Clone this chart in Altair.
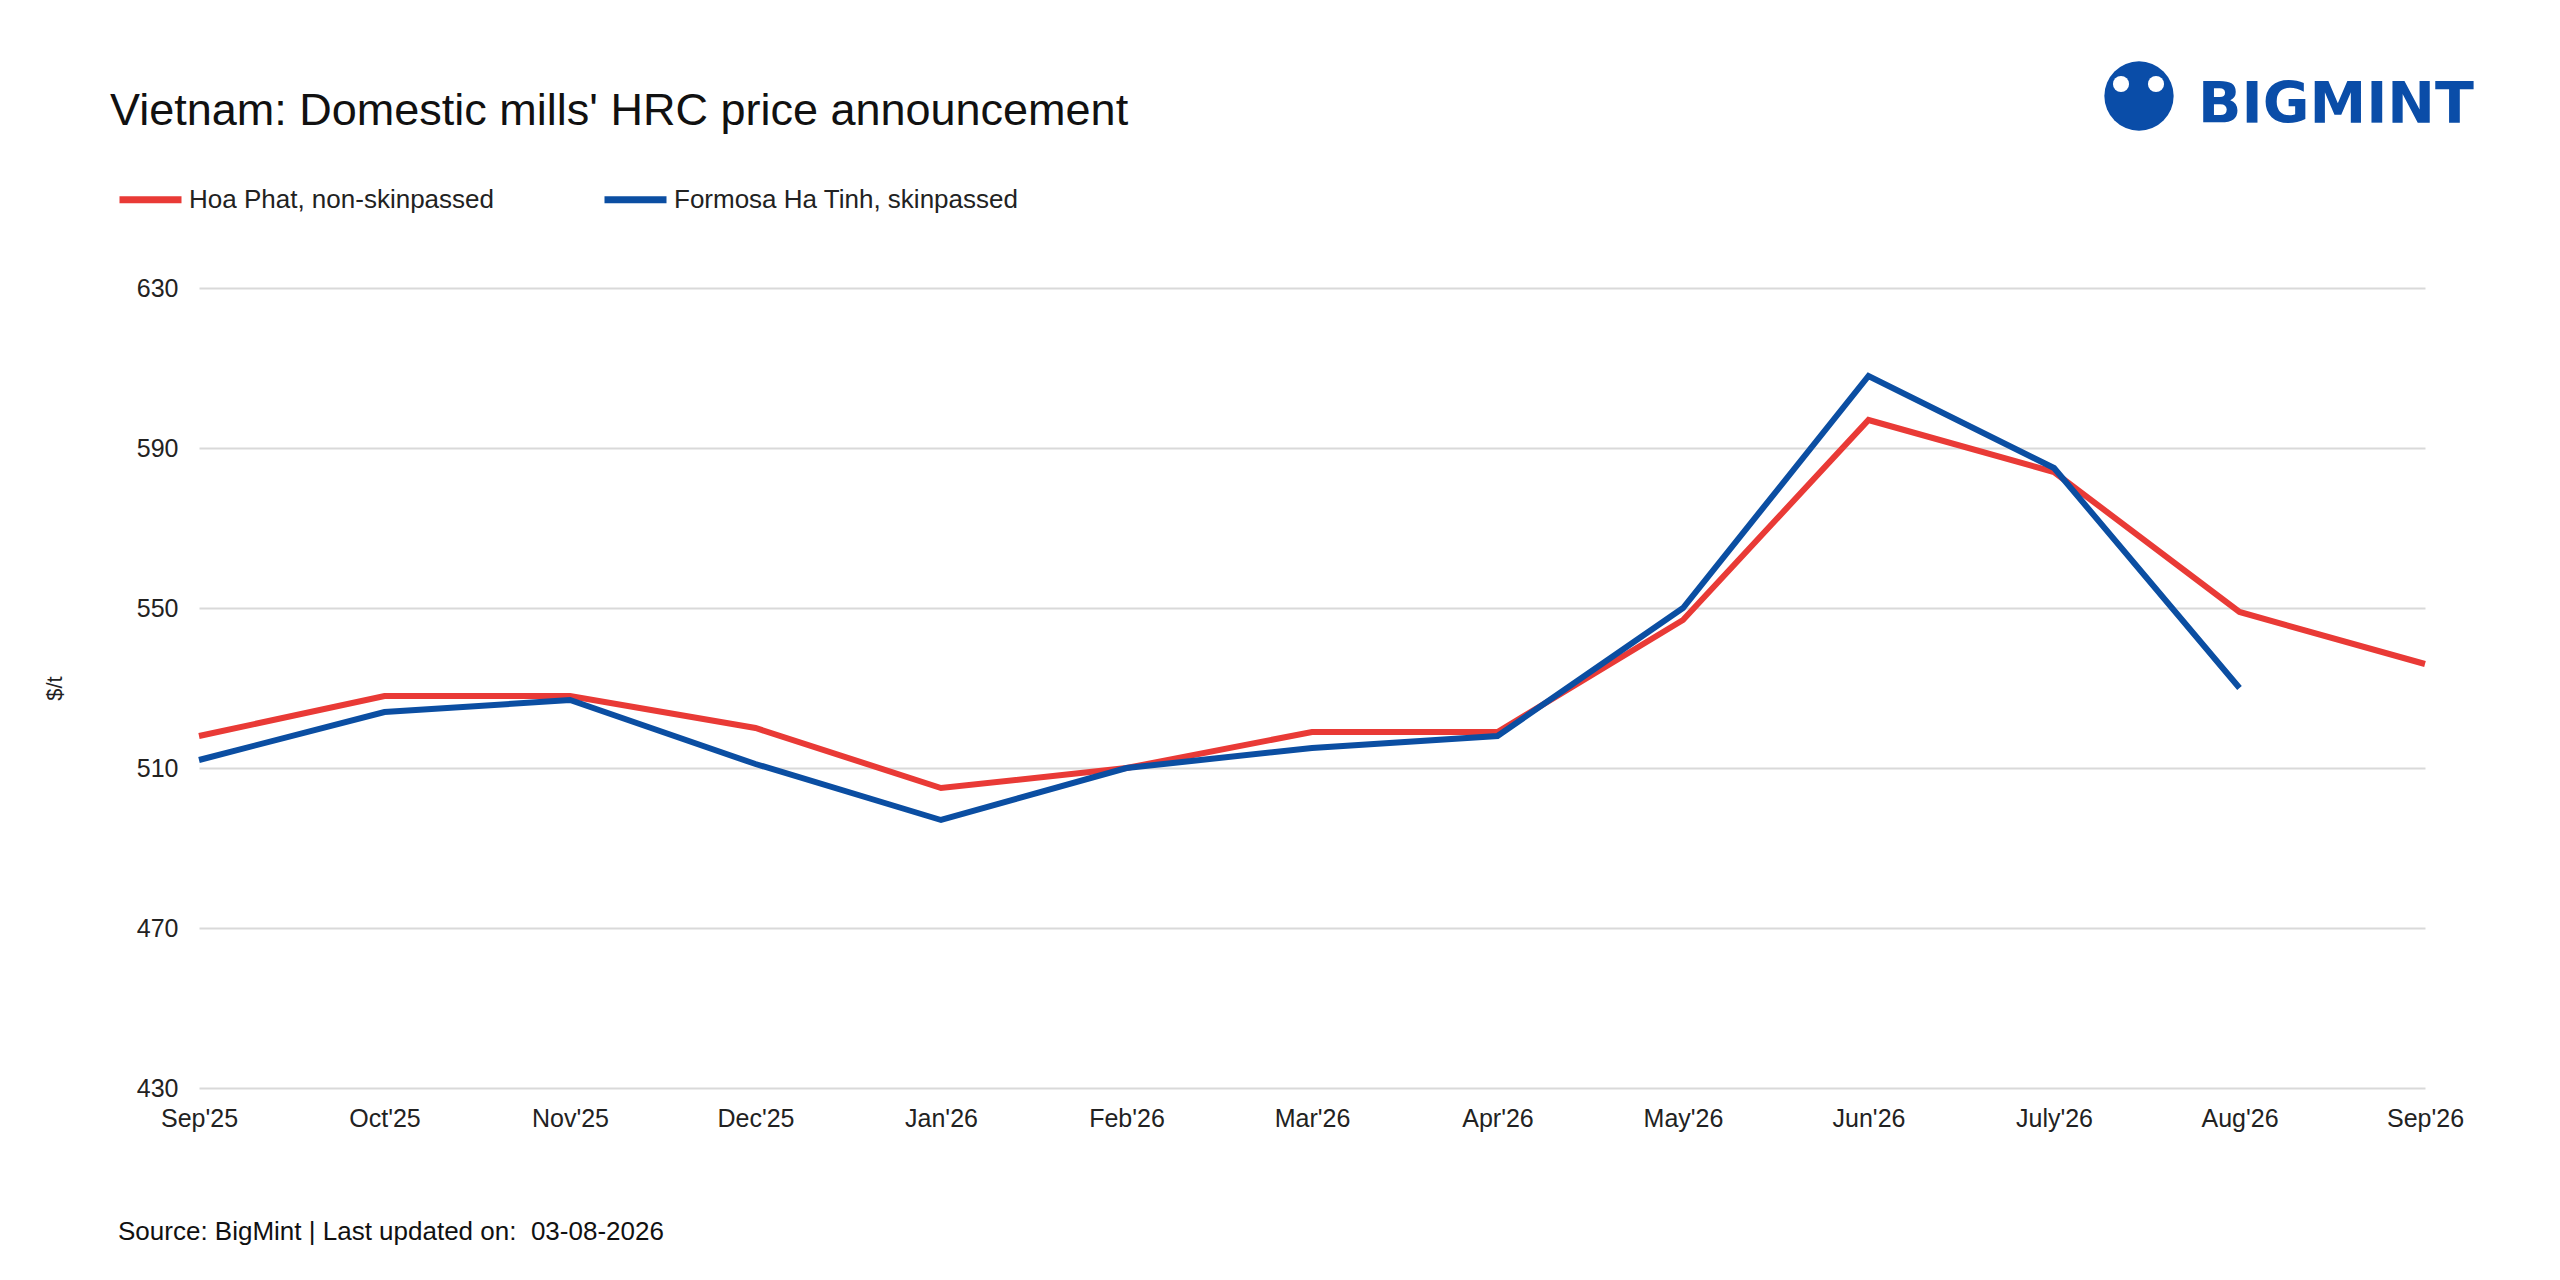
import altair as alt
import pandas as pd

# data
months = ["Sep'25", "Oct'25", "Nov'25", "Dec'25", "Jan'26", "Feb'26", "Mar'26",
          "Apr'26", "May'26", "Jun'26", "July'26", "Aug'26", "Sep'26"]
hoa_phat = [518, 528, 528, 520, 505, 510, 519, 519, 547, 597, 584, 549, 536]
formosa = [512, 524, 527, 511, 497, 510, 515, 518, 550, 608, 585, 530]
series_names = ["Hoa Phat, non-skinpassed", "Formosa Ha Tinh, skinpassed"]
series_colors = ["#E93A36", "#0B4EA2"]
y_ticks = [430, 470, 510, 550, 590, 630]

title_text = "Vietnam: Domestic mills' HRC price announcement"
source_text = "Source: BigMint | Last updated on:\u00a0 03-08-2026"

FONT = "Liberation Sans"
LOGO_BLUE = "#0A4DA8"

rows = []
for name, vals in zip(series_names, [hoa_phat, formosa]):
    for i, v in enumerate(vals):
        rows.append({"month": months[i], "idx": i, "price": v, "series": name})
df = pd.DataFrame(rows)

# lines
lines = alt.Chart(df).mark_line(strokeWidth=6).encode(
    x=alt.X("month:N", sort=months, scale=alt.Scale(padding=0),
            axis=alt.Axis(title=None, labelAngle=0, labelFontSize=25, labelPadding=18,
                          ticks=False, domain=False, grid=False, labelColor="#222222")),
    y=alt.Y("price:Q", scale=alt.Scale(domain=[430, 630], nice=False, zero=False),
            axis=alt.Axis(values=y_ticks, title="$/t", titleFontSize=22,
                          titleFontWeight="normal", titlePadding=70, titleColor="#222222",
                          labelFontSize=25, labelPadding=21, labelColor="#222222",
                          ticks=False, domain=False, gridColor="#d9d9d9", gridWidth=2)),
    color=alt.Color("series:N", scale=alt.Scale(domain=series_names, range=series_colors),
                    legend=alt.Legend(title=None, orient="none", legendX=-83, legendY=-123,
                                      direction="horizontal", symbolType="stroke",
                                      symbolStrokeWidth=7, symbolSize=3844,
                                      labelFontSize=26, labelOffset=4, columnPadding=96,
                                      labelLimit=600, labelColor="#222222")),
    order="idx:Q"
)

# title and source as text
title = alt.Chart(pd.DataFrame({"t": [title_text]})).mark_text(
    align="left", baseline="middle", fontSize=45, font=FONT, color="#111111"
).encode(text="t:N", x=alt.value(-89), y=alt.value(-177))

source = alt.Chart(pd.DataFrame({"t": [source_text]})).mark_text(
    align="left", baseline="middle", fontSize=26, font=FONT, color="#111111"
).encode(text="t:N", x=alt.value(-81), y=alt.value(944))

# logo
logo_circle = alt.Chart(pd.DataFrame({"a": [0]})).mark_point(
    shape="circle", filled=True, size=4800, color=LOGO_BLUE, opacity=1
).encode(x=alt.value(1940), y=alt.value(-192))

head_left = alt.Chart(pd.DataFrame({"a": [0]})).mark_point(
    shape="circle", filled=True, size=260, color="white", opacity=1
).encode(x=alt.value(1922), y=alt.value(-204))

head_right = alt.Chart(pd.DataFrame({"a": [0]})).mark_point(
    shape="circle", filled=True, size=260, color="white", opacity=1
).encode(x=alt.value(1957), y=alt.value(-204))

logo_text = alt.Chart(pd.DataFrame({"t": ["BIGMINT"]})).mark_text(
    align="left", baseline="middle", fontSize=57, font="DejaVu Sans", fontWeight="bold",
    color=LOGO_BLUE
).encode(text="t:N", x=alt.value(1999), y=alt.value(-182))

chart = alt.layer(lines, title, source, logo_circle, head_left, head_right, logo_text).properties(
    width=2226, height=800,
    autosize=alt.AutoSizeParams(type="none"),
    padding={"left": 191, "top": 280, "right": 120, "bottom": 170}
).configure(font=FONT).configure_view(stroke=None)

chart.save("out.html", embed_options={"renderer": "svg", "actions": False})
